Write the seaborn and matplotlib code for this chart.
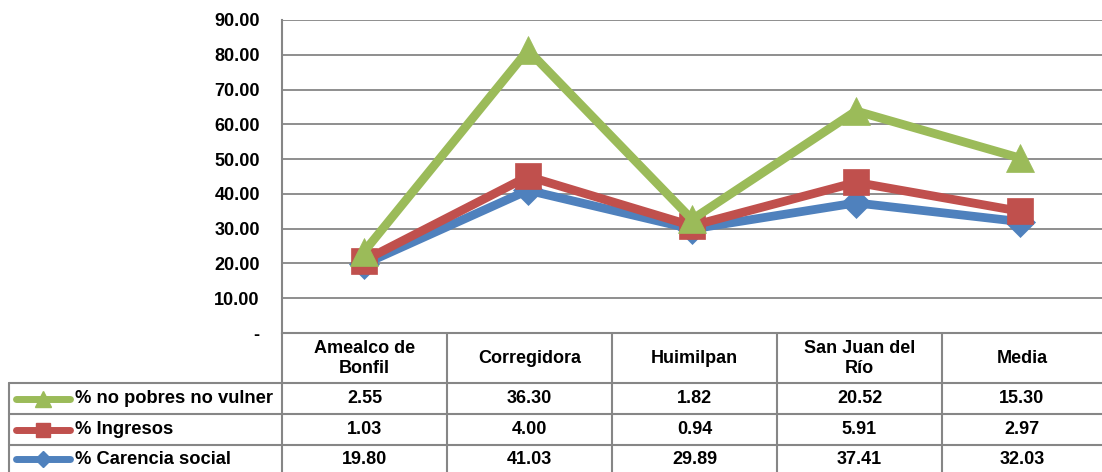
import matplotlib
matplotlib.use("Agg")
import numpy as np
import pandas as pd
import matplotlib.pyplot as plt
import seaborn as sns

# Data (stacked line chart with data table)
categories = ["Amealco de\nBonfil", "Corregidora", "Huimilpan", "San Juan del\nRío", "Media"]
series_names = ["% no pobres no vulner", "% Ingresos", "% Carencia social"]
carencia = [19.80, 41.03, 29.89, 37.41, 32.03]
ingresos = [1.03, 4.00, 0.94, 5.91, 2.97]
no_pobres = [2.55, 36.30, 1.82, 20.52, 15.30]
yticks = [0, 10, 20, 30, 40, 50, 60, 70, 80, 90]

GREEN, RED, BLUE = "#9BBB59", "#C0504D", "#4F81BD"
GRID = "#868686"

sns.set_style("white")
plt.rcParams["font.family"] = ["Liberation Sans", "DejaVu Sans"]
plt.rcParams["font.weight"] = "bold"
plt.rcParams["text.color"] = "black"
plt.rcParams["ytick.color"] = "black"

# stacked cumulative values
s1 = np.array(carencia)
s2 = s1 + np.array(ingresos)
s3 = s2 + np.array(no_pobres)
x = np.arange(len(categories))

styles = [
    ("% Carencia social", s1, BLUE, "D", 15),
    ("% Ingresos", s2, RED, "s", 19),
    ("% no pobres no vulner", s3, GREEN, "^", 20),
]

W, H = 1102, 472
fig = plt.figure(figsize=(W / 100, H / 100), dpi=100)
ax = fig.add_axes([282 / W, (H - 333) / H, 820 / W, 313 / H])

for name, vals, col, mk, ms in styles:
    df = pd.DataFrame({"x": x, "y": vals})
    sns.lineplot(data=df, x="x", y="y", ax=ax, color=col, lw=6.3, marker=mk,
                 markersize=ms, markeredgecolor=col, markeredgewidth=0.5,
                 solid_joinstyle="miter", zorder=3)

ax.set_xlim(-0.5, len(categories) - 0.5)
ax.set_ylim(0, 90)
ax.set_yticks(yticks)
ax.set_yticklabels(["-" if v == 0 else f"{v:.2f}" for v in yticks],
                   fontsize=13, fontweight="bold")
ax.set_xticks([])
ax.set_xlabel("")
ax.set_ylabel("")
ax.tick_params(axis="y", length=0, pad=16, colors="black")
ax.grid(axis="y", color=GRID, lw=1.3)
for sp in ["top", "right"]:
    ax.spines[sp].set_visible(False)
ax.spines["left"].set_color(GRID)
ax.spines["left"].set_linewidth(1.5)
ax.spines["bottom"].set_color(GRID)
ax.spines["bottom"].set_linewidth(1.5)

# Data table below the plot, in pixel coordinates
tab = fig.add_axes([0, 0, 1, (H - 333) / H])
tab.set_xlim(0, W)
tab.set_ylim(H, 333)
tab.axis("off")

col_edges = [282, 447, 612, 777, 942, 1102]
row_lines = [383, 414, 445]
for y in row_lines:
    tab.plot([9, W], [y, y], color=GRID, lw=1.5, clip_on=False)
tab.plot([9, 9], [383, H], color=GRID, lw=1.5)
for xe in col_edges[:-1]:
    tab.plot([xe, xe], [333, H], color=GRID, lw=1.5)

centers = [(col_edges[i] + col_edges[i + 1]) / 2 for i in range(len(categories))]
for cx, cat in zip(centers, categories):
    tab.text(cx, 358.5, cat, ha="center", va="center", fontsize=13,
             fontweight="bold", linespacing=1.3, color="black")

row_data = [no_pobres, ingresos, carencia]
row_style = [(GREEN, "^", 11), (RED, "s", 10), (BLUE, "D", 8)]
row_centers = [398.5, 429.5, 459]
for yc, name, vals, (col, mk, ms) in zip(row_centers, series_names, row_data, row_style):
    tab.plot([16, 70], [yc, yc], color=col, lw=5, solid_capstyle="round")
    tab.plot([43], [yc], marker=mk, color=col, markersize=ms)
    tab.text(75, yc, name, ha="left", va="center", fontsize=13.2,
             fontweight="bold", color="black")
    for cx, v in zip(centers, vals):
        tab.text(cx, yc, f"{v:.2f}", ha="center", va="center", fontsize=13,
                 fontweight="bold", color="black")

fig.savefig("out.png", dpi=100)
